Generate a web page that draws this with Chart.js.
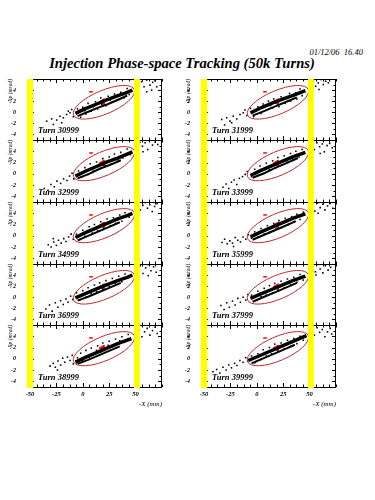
<!DOCTYPE html>
<html><head><meta charset="utf-8">
<script src="https://cdn.jsdelivr.net/npm/chart.js@4"></script>
<style>
html,body{margin:0;padding:0;background:#fff;width:375px;height:500px;overflow:hidden;position:relative}
#date{position:absolute;left:280px;width:83px;text-align:right;top:47px;font:italic 8.5px "Liberation Serif";color:#000;white-space:pre}
#title{position:absolute;left:0;width:364px;top:55px;text-align:center;font:italic bold 14.6px "Liberation Serif";color:#000;white-space:nowrap}
</style></head><body>
<div id="date">01/12/06  16.40</div>
<div id="title">Injection Phase-space Tracking (50k Turns)</div>
<script>
// ---------------- data ----------------
const TURNS_LEFT  = [30999, 32999, 34999, 36999, 38999];
const TURNS_RIGHT = [31999, 33999, 35999, 37999, 39999];
const X_TICK_LABELS = [-50, -25, 0, 25, 50];
const Y_TICK_LABELS = [-4, -2, 0, 2, 4];
const X_RANGE = [-50, 75];
const Y_RANGE = [-5, 6];
const X_MINOR_STEP = 6.25;
const Y_MINOR_STEP = 1;
// acceptance ellipse: centre, end of one semi-axis, end of the conjugate semi-axis (mm, mrad)
const ELLIPSE_CENTER = [20, 1.8];
const ELLIPSE_MAJOR_TIP = [48.8, 4.1];
const ELLIPSE_MINOR_TIP = [15.9, 3.78];
const REF_MARK = [[18.7, 1.9]];
const INJ_MARK = [[7.8, 3.7]];
const APERTURE_LEFT = [-53, -47];
const APERTURE_RIGHT = [48.5, 54];

const pts30999 = [[-34.2,-1.6],[-29.5,-1.2],[-27.9,-2.2],[-24.7,-1.4],[-21.6,-0.7],[-20,-1.9],[-18.4,-1.0],[-15.3,-0.4],[-13.7,0.2],[-12.1,-0.1],[-10.5,0.5],[-9,-0.8],
 [-5,0.6],[-2,-0.9],[0,0.9],[3,-0.3],[5,1.6],[8,0.2],[12,1.9],[14,0.6],[17,2.6],[22,1.2],[24,2.9],[28,1.9],[30,3.3],[33,2.3],[36,3.6],[39,2.6],[42,4.3],[44,3.2],[2,0.3],[18,1.4],[26,2.2],[34,3.0],[40,3.4],[10,1.0],
 [52.6,5.3],[55.7,5.5],[58,4.6],[60.5,5.8],[63.6,4.9],[66.2,5.4],[68.4,5.7],[70,4.6],[65.2,4.0],[60.5,3.7]];
const pts31999 = [[-33.2,-1.3],[-28.5,-1.0],[-25.4,-1.6],[-23.8,-1.9],[-22.3,-0.7],[-19,-1.2],[-15.9,-0.4],[-12.8,-0.1],[-11.2,0.4],[-9.5,-0.6],[-30.5,-2.3],
 [-6,0.7],[-3,-0.8],[1,1.0],[4,-0.2],[6,1.5],[9,0.4],[11,2.0],[15,0.8],[16,2.4],[21,1.0],[23,2.8],[27,1.6],[31,3.4],[32,2.0],[37,3.5],[38,2.4],[41,4.2],[43,3.0],[13,1.2],[19,1.9],[29,2.5],[35,2.9],
 [53.5,5.6],[55.8,4.7],[58.2,5.3],[60.8,5.9],[63,5.0],[65.2,5.6],[67.7,5.3],[69.3,5.9],[58.9,4.1]];
const pts32999 = [[-36.5,-2.6],[-33,-2.9],[-30.2,-1.9],[-27,-2.3],[-24.5,-1.3],[-21,-1.7],[-18.2,-0.9],[-15,-1.2],[-12.5,-0.4],[-10.2,0.1],[-8.5,-0.9],
 [-4,0.5],[-1,-0.6],[2,1.1],[5,-0.1],[7,1.8],[10,0.5],[13,2.1],[16,0.9],[19,2.7],[21,1.5],[25,3.0],[27,1.8],[30,3.5],[33,2.5],[36,3.8],[38,2.8],[42,4.4],[45,3.4],[8,1.0],[23,2.2],[31,2.7],
 [51.5,4.5],[54,5.6],[56.5,4.9],[59,5.5],[61.5,4.3],[63.5,5.9],[66,5.1],[68.5,5.6],[71,5.2],[57,3.9]];
const pts33999 = [[-32,-2.4],[-29,-1.8],[-26.5,-2.6],[-24,-1.5],[-21.5,-1.1],[-19,-1.9],[-16.5,-0.8],[-13.5,-0.5],[-11,-0.1],[-9,0.4],
 [-5,-0.5],[-2,0.8],[1,-0.3],[3,1.4],[7,0.1],[9,1.9],[12,0.7],[15,2.3],[18,1.1],[20,2.9],[24,1.6],[26,3.2],[29,2.1],[32,3.6],[34,2.6],[37,4.0],[40,3.0],[43,4.3],[5,0.6],[16,1.5],[27,2.4],[39,3.3],
 [52,5.2],[54.5,4.3],[57,5.5],[59.5,4.8],[62,5.3],[64,3.9],[66.5,5.0],[69,5.4],[71.5,4.6],[60,3.6]];
const pts34999 = [[-32.7,-1.6],[-30,-2.0],[-27.5,-1.1],[-25,-1.7],[-23,-0.8],[-20.5,-1.3],[-18,-0.5],[-16,-1.0],[-13.5,-0.2],[-11,0.3],[-9,-0.6],[-28,-0.5],
 [-6,0.3],[-3,-0.7],[0,1.0],[2,-0.1],[6,1.6],[9,0.5],[11,2.0],[14,0.9],[17,2.5],[20,1.3],[23,3.0],[26,1.8],[29,3.2],[31,2.2],[35,3.7],[37,2.6],[40,4.1],[44,3.3],[4,0.7],[13,1.4],[25,2.3],[33,2.9],
 [52.3,5.8],[54.5,4.6],[56.8,5.4],[59,5.9],[61.2,4.9],[63.5,5.5],[65.8,4.3],[68,5.2],[70.3,5.7]];
const pts35999 = [[-33,-1.2],[-30.5,-0.6],[-28,-1.4],[-25.5,-0.9],[-23,-1.3],[-20.5,-0.3],[-18,-0.8],[-15.5,-1.1],[-13,-0.2],[-10.5,-0.6],[-8,0.2],[-22,-1.9],
 [-5,-0.4],[-2,0.7],[1,-0.2],[4,1.3],[7,0.3],[10,1.8],[12,0.6],[16,2.2],[18,1.2],[21,2.7],[24,1.5],[27,3.1],[30,2.0],[33,3.4],[35,2.5],[38,3.8],[41,2.9],[44,4.2],[6,1.0],[15,1.6],[28,2.6],[36,3.1],
 [53,5.4],[55,4.4],[57.5,5.8],[60,5.0],[62.5,5.6],[64.5,4.6],[67,5.3],[69.5,5.8],[72,4.9],[58,4.0]];
const pts36999 = [[-35,-2.1],[-31.5,-1.4],[-29,-2.5],[-26,-1.0],[-23.5,-1.8],[-21,-0.6],[-18.5,-1.3],[-16,-0.3],[-14,-0.9],[-11.5,0.2],[-9.5,-0.4],
 [-6,0.8],[-3,-0.5],[0,1.2],[3,0.0],[5,1.7],[8,0.6],[11,2.2],[13,1.0],[16,2.6],[19,1.4],[22,3.0],[25,2.0],[28,3.4],[31,2.4],[34,3.8],[37,2.8],[40,4.2],[43,3.5],[9,1.3],[20,2.0],[32,3.0],
 [52,5.0],[54.5,5.7],[57,4.3],[59.5,5.3],[62,5.9],[64.5,4.8],[67,5.5],[69.5,4.5],[62,3.9]];
const pts37999 = [[-34,-1.5],[-31,-2.2],[-28.5,-1.0],[-26,-1.8],[-23,-0.7],[-20.5,-1.4],[-18,-0.2],[-15.5,-0.9],[-13,0.0],[-10.5,-0.5],[-8.5,0.5],
 [-5,0.4],[-2,-0.6],[1,1.1],[4,0.1],[7,1.6],[9,0.4],[12,2.1],[15,0.8],[17,2.5],[20,1.2],[23,2.9],[26,1.7],[29,3.3],[32,2.3],[35,3.6],[38,2.7],[41,4.1],[44,3.1],[3,0.7],[18,1.8],[30,2.8],
 [53,5.5],[55.5,4.6],[58,5.9],[60,5.1],[62.5,4.4],[65,5.7],[67.5,4.9],[70,5.4],[56,4.0]];
const pts38999 = [[-31,-1.3],[-28,-0.8],[-26,-1.5],[-23.5,-0.4],[-21,-1.1],[-19,0.1],[-17,-0.6],[-14.5,0.3],[-12,-0.3],[-10,0.6],[-9,-0.9],[-24,-2.0],
 [-5,0.2],[-2,1.0],[0,-0.4],[3,1.5],[6,0.3],[8,1.9],[11,0.8],[14,2.3],[17,1.2],[19,2.8],[22,1.7],[25,3.1],[28,2.2],[31,3.5],[34,2.6],[37,3.9],[40,3.0],[43,4.3],[13,1.5],[24,2.4],[35,3.2],
 [51,4.4],[53.5,5.1],[56,3.9],[58.5,4.8],[61,5.4],[63.5,4.2],[66,5.0],[68.5,5.6],[70.5,4.5]];
const pts39999 = [[-41.5,-2.3],[-38,-1.9],[-35,-2.5],[-32,-1.5],[-29,-2.0],[-26.5,-1.1],[-24,-1.6],[-21,-0.8],[-18.8,-1.2],[-16,-0.3],[-13,-0.6],[-10.5,0.2],[-8.5,-0.4],
 [-5,0.5],[-2,-0.7],[1,0.9],[4,-0.1],[6,1.6],[9,0.5],[12,2.0],[14,0.9],[17,2.6],[20,1.3],[23,2.8],[26,1.8],[29,3.3],[32,2.2],[35,3.6],[38,2.7],[41,4.0],[44,3.3],[8,1.1],[21,2.0],[33,2.9],
 [52,5.0],[54.5,4.2],[57,5.5],[59.5,4.7],[62,5.2],[64.5,3.9],[67,4.8],[69.5,5.4],[71,4.4]];

// dense core streaks
const coreA30999 = [[-7,-0.2],[2,0.6],[12,1.4],[22,2.2],[32,2.9],[41,3.5],[47,4.0]];
const coreB30999 = [[-5,-0.7],[4,0.0],[14,0.8],[24,1.5],[34,2.3],[42,3.0]];
const coreA31999 = [[-6,-0.1],[5,0.9],[15,1.7],[25,2.4],[35,3.1],[46,3.9]];
const coreB31999 = [[-4,-0.6],[8,0.3],[18,1.1],[28,1.9],[38,2.7]];
const coreA32999 = [[-7,-0.4],[3,0.5],[13,1.3],[23,2.1],[33,2.8],[42,3.5],[47,3.9]];
const coreB32999 = [[-5,-0.8],[6,0.0],[16,0.9],[26,1.6],[36,2.4]];
const coreA33999 = [[-6,-0.3],[4,0.6],[14,1.4],[24,2.2],[34,3.0],[46,3.8]];
const coreB33999 = [[-4,-0.7],[7,0.1],[17,1.0],[27,1.8],[39,2.8]];
const coreA34999 = [[-7,-0.3],[3,0.6],[13,1.4],[23,2.2],[33,3.0],[42,3.6],[47,4.0]];
const coreB34999 = [[-5,-0.8],[5,0.0],[15,0.8],[25,1.6],[35,2.4]];
const coreA35999 = [[-6,-0.2],[4,0.7],[14,1.5],[24,2.3],[34,3.1],[46,3.9]];
const coreB35999 = [[-4,-0.7],[6,0.1],[16,0.9],[26,1.7],[37,2.6]];
const coreA36999 = [[-7,-0.1],[3,0.7],[13,1.5],[23,2.3],[33,3.0],[42,3.6],[47,4.0]];
const coreB36999 = [[-5,-0.6],[5,0.1],[15,0.9],[25,1.7],[36,2.6]];
const coreA37999 = [[-6,-0.2],[4,0.6],[14,1.4],[24,2.2],[34,3.0],[46,3.8]];
const coreB37999 = [[-4,-0.8],[6,0.0],[16,0.8],[26,1.6],[38,2.6]];
const coreA38999 = [[-7,-0.6],[3,0.3],[13,1.1],[23,1.9],[33,2.7],[42,3.3],[46,3.6]];
const coreB38999 = [[-5,-0.9],[5,-0.2],[15,0.6],[25,1.4],[35,2.2]];
const coreA39999 = [[-8,-0.3],[2,0.5],[12,1.3],[22,2.1],[32,2.9],[42,3.7],[47,4.1]];
const coreB39999 = [[-5,-0.8],[5,0.0],[15,0.8],[25,1.6],[36,2.5]];

// ---------------- layout / style ----------------
const PANEL_TOPS = [79, 140, 202, 264, 325];
const PANEL_BOTTOM = 387;
const COL_LEFTS = [0, 174];
const PAD = 8, Y_AXIS_W = 30, PLOT_W = 132, RIGHT_PAD = 8, X_AXIS_H = 21;
const SERIF = '"Liberation Serif", "Times New Roman", serif';
const TURN_LABEL_POS = [-42.5, -3.7];

const SERIES = {
  30999:[pts30999,coreA30999,coreB30999], 31999:[pts31999,coreA31999,coreB31999],
  32999:[pts32999,coreA32999,coreB32999], 33999:[pts33999,coreA33999,coreB33999],
  34999:[pts34999,coreA34999,coreB34999], 35999:[pts35999,coreA35999,coreB35999],
  36999:[pts36999,coreA36999,coreB36999], 37999:[pts37999,coreA37999,coreB37999],
  38999:[pts38999,coreA38999,coreB38999], 39999:[pts39999,coreA39999,coreB39999]
};
const toXY = a => a.map(([x, y]) => ({x, y}));
const near = (v, arr) => arr.some(a => Math.abs(a - v) < 1e-6);

const framePlugin = {
  id: 'frame',
  afterDatasetsDraw(chart, args, opts) {
    const {ctx, chartArea: a, scales: {x, y}} = chart;
    ctx.save();
    // acceptance ellipse
    const cx = x.getPixelForValue(ELLIPSE_CENTER[0]), cy = y.getPixelForValue(ELLIPSE_CENTER[1]);
    const ux = x.getPixelForValue(ELLIPSE_MAJOR_TIP[0]) - cx, uy = y.getPixelForValue(ELLIPSE_MAJOR_TIP[1]) - cy;
    const vx = x.getPixelForValue(ELLIPSE_MINOR_TIP[0]) - cx, vy = y.getPixelForValue(ELLIPSE_MINOR_TIP[1]) - cy;
    ctx.beginPath();
    ctx.save(); ctx.transform(ux, uy, vx, vy, cx, cy); ctx.arc(0, 0, 1, 0, Math.PI * 2); ctx.restore();
    ctx.strokeStyle = '#c0282d'; ctx.lineWidth = 1; ctx.stroke();
    // frame
    const L = Math.round(a.left), R = Math.round(a.right), T = Math.round(a.top), B = Math.round(a.bottom);
    ctx.strokeStyle = '#000'; ctx.lineWidth = 1;
    ctx.strokeRect(L + 0.5, T + 0.5, R - L - 1, B - T);
    // inward ticks
    ctx.beginPath();
    for (const t of x.ticks) {
      const px = Math.round(x.getPixelForValue(t.value)) + 0.5;
      const len = near(t.value, X_TICK_LABELS) ? 4 : 2.5;
      ctx.moveTo(px, T); ctx.lineTo(px, T + len);
      ctx.moveTo(px, B); ctx.lineTo(px, B - len);
    }
    for (const t of y.ticks) {
      const py = Math.round(y.getPixelForValue(t.value)) + 0.5;
      const len = near(t.value, Y_TICK_LABELS) ? 4 : 2.5;
      ctx.moveTo(L, py); ctx.lineTo(L + len, py);
      ctx.moveTo(R, py); ctx.lineTo(R - len, py);
    }
    ctx.stroke();
    // aperture bars
    ctx.fillStyle = '#ffff00';
    for (const [a0, a1] of [APERTURE_LEFT, APERTURE_RIGHT]) {
      const p0 = x.getPixelForValue(a0), p1 = x.getPixelForValue(a1);
      ctx.fillRect(p0, T, p1 - p0, B - T + 1);
    }
    // turn label
    ctx.fillStyle = '#000';
    ctx.font = 'italic bold 8.5px ' + SERIF;
    ctx.textBaseline = 'alphabetic'; ctx.textAlign = 'left';
    ctx.fillText('Turn ' + opts.turn, x.getPixelForValue(TURN_LABEL_POS[0]), y.getPixelForValue(TURN_LABEL_POS[1]));
    ctx.restore();
  }
};

function addPanel(col, row, turn) {
  const [pts, coreA, coreB] = SERIES[turn];
  const top = PANEL_TOPS[row];
  const bottom = row < 4 ? PANEL_TOPS[row + 1] : PANEL_BOTTOM;
  const h = bottom - top;
  const isBottom = row === 4;
  const W = Y_AXIS_W + PLOT_W + RIGHT_PAD;
  const H = h + PAD + (isBottom ? X_AXIS_H : PAD);
  const cv = document.createElement('canvas');
  cv.width = W; cv.height = H;
  cv.style.cssText = `position:absolute;left:${COL_LEFTS[col]}px;top:${top - PAD}px;width:${W}px;height:${H}px`;
  document.body.appendChild(cv);
  new Chart(cv, {
    type: 'scatter',
    data: { datasets: [
      { data: toXY(coreA), showLine: true, borderColor: '#000', borderWidth: 3.5, pointRadius: 0, tension: 0 },
      { data: toXY(coreB), showLine: true, borderColor: '#000', borderWidth: 2, pointRadius: 0, tension: 0 },
      { data: toXY(pts), pointStyle: 'rect', pointRadius: 1.1, backgroundColor: '#000', borderWidth: 0 },
      { data: toXY(REF_MARK), pointStyle: 'triangle', rotation: -90, pointRadius: 3.5, backgroundColor: '#ff0000', borderColor: '#ff0000', borderWidth: 1 },
      { data: toXY(INJ_MARK), pointStyle: 'line', pointRadius: 1.8, borderColor: '#ff0000', borderWidth: 1.5 }
    ]},
    options: {
      responsive: false, animation: false, events: [],
      layout: { padding: { top: PAD, bottom: isBottom ? 0 : PAD, left: 0, right: RIGHT_PAD } },
      plugins: { legend: { display: false }, tooltip: { enabled: false }, frame: { turn } },
      scales: {
        x: {
          type: 'linear', min: X_RANGE[0], max: X_RANGE[1],
          afterBuildTicks: s => { const t = []; for (let v = X_RANGE[0]; v <= X_RANGE[1] + 1e-9; v += X_MINOR_STEP) t.push({ value: v }); s.ticks = t; },
          ticks: { display: isBottom, autoSkip: false, maxRotation: 0, minRotation: 0, padding: -5, color: '#000',
                   font: { family: SERIF, style: 'italic', weight: 'bold', size: 6.5 },
                   callback: v => near(v, X_TICK_LABELS) ? String(Math.round(v)) : '' },
          grid: { display: false }, border: { display: false },
          title: { display: isBottom, text: '-X (mm)', align: 'end', color: '#000', padding: 0,
                   font: { family: SERIF, style: 'italic', size: 7 } },
          afterFit: s => { s.height = isBottom ? X_AXIS_H : 0; s.paddingLeft = 0; s.paddingRight = 0; }
        },
        y: {
          type: 'linear', min: Y_RANGE[0], max: Y_RANGE[1],
          afterBuildTicks: s => { const t = []; for (let v = Y_RANGE[0]; v <= Y_RANGE[1] + 1e-9; v += Y_MINOR_STEP) t.push({ value: v }); s.ticks = t; },
          ticks: { autoSkip: false, padding: 6, color: '#000',
                   font: { family: SERIF, style: 'italic', weight: 'bold', size: 6 },
                   callback: v => near(v, Y_TICK_LABELS) ? String(Math.round(v)) : '' },
          grid: { display: false }, border: { display: false },
          title: { display: true, text: '-Xp (mrad)', align: 'end', color: '#000', padding: { top: col === 0 ? 7 : 11, bottom: 0 },
                   font: { family: SERIF, style: 'italic', size: 5.5 } },
          afterFit: s => { s.width = Y_AXIS_W; s.paddingTop = 0; s.paddingBottom = 0; }
        }
      }
    },
    plugins: [framePlugin]
  });
}

TURNS_LEFT.forEach((t, i) => addPanel(0, i, t));
TURNS_RIGHT.forEach((t, i) => addPanel(1, i, t));
</script>
</body></html>
